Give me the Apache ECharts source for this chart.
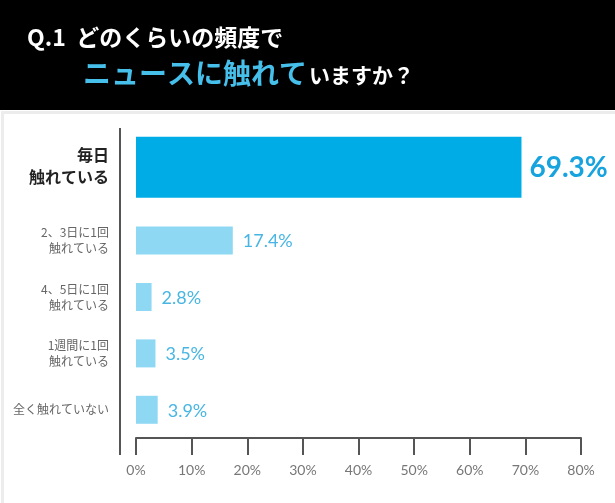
<!DOCTYPE html>
<html>
<head>
<meta charset="utf-8">
<script src="https://cdn.jsdelivr.net/npm/echarts@6/dist/echarts.min.js"></script>
<style>
  html, body { margin: 0; padding: 0; background: #fff; }
  #chart { width: 615px; height: 503px; }
</style>
</head>
<body>
<div id="chart"></div>
<script>
// 回答の選択肢（上から順）
const categories = ['毎日\n触れている', '2、3日に1回\n触れている', '4、5日に1回\n触れている', '1週間に1回\n触れている', '全く触れていない'];
const values = [69.3, 17.4, 2.8, 3.5, 3.9];
const tickLabels = ['0%', '10%', '20%', '30%', '40%', '50%', '60%', '70%', '80%'];

const numFont = 'Lato, "Noto Sans CJK JP", sans-serif';
const jpFont = '"Noto Sans CJK JP", sans-serif';

const chart = echarts.init(document.getElementById('chart'));
chart.setOption({
    backgroundColor: '#fff',
    animation: false,
    graphic: [
        { type: 'rect', left: 0, top: 0, shape: { width: 615, height: 110 }, style: { fill: '#000' } },
        { type: 'rect', left: 0, top: 110, shape: { width: 615, height: 393 }, style: { fill: 'none', stroke: '#ececec', lineWidth: 3 } },
        { type: 'text', x: 27, y: 37, style: { text: 'Q.1  どのくらいの頻度で', fill: '#fff', font: 'bold 23px ' + jpFont, verticalAlign: 'middle' } },
        { type: 'text', x: 83, y: 73, style: { text: 'ニュースに触れて', fill: '#46bfeb', font: 'bold 28px ' + jpFont, verticalAlign: 'middle' } },
        { type: 'text', x: 309, y: 75, style: { text: 'いますか？', fill: '#fff', font: 'bold 21px ' + jpFont, verticalAlign: 'middle' } },
        // 縦の区切り線
        { type: 'line', shape: { x1: 120, y1: 128, x2: 120, y2: 455 }, style: { stroke: '#555', lineWidth: 2 } }
    ],
    grid: { left: 136, right: 34, top: 156, bottom: 65 },
    xAxis: {
        type: 'value',
        min: 0, max: 80, interval: 10,
        splitLine: { show: false },
        axisLine: { show: true, lineStyle: { color: '#555', width: 2 } },
        axisTick: { show: true, length: 17, lineStyle: { color: '#555', width: 2 } },
        axisLabel: {
            margin: 25,
            color: '#777',
            fontSize: 14,
            fontFamily: numFont,
            formatter: (v) => tickLabels[v / 10]
        }
    },
    yAxis: {
        type: 'category',
        inverse: true,
        data: categories,
        axisLine: { show: false },
        axisTick: { show: false },
        axisLabel: {
            margin: 27,
            color: '#666',
            fontSize: 12,
            lineHeight: 16,
            fontFamily: jpFont,
            formatter: (v, i) => i === 0 ? v.split('\n').map(s => '{top|' + s + '}').join('\n') + '\n{gap| }' : v,
            rich: {
                top: { color: '#222', fontSize: 16, fontWeight: 'bold', lineHeight: 22, fontFamily: jpFont },
                gap: { fontSize: 10, lineHeight: 36 }
            }
        }
    },
    series: [{
        type: 'custom',
        encode: { x: 0, y: 1 },
        data: values.map((v, i) => [v, i]),
        renderItem: (params, api) => {
            const v = api.value(0);
            const idx = api.value(1);
            const isTop = idx === 0;
            const h = isTop ? 61 : 28;
            const p0 = api.coord([0, idx]);
            const p1 = api.coord([v, idx]);
            const cy = p0[1] + (isTop ? -17 : 0);
            return {
                type: 'group',
                children: [
                    {
                        type: 'rect',
                        shape: { x: p0[0], y: cy - h / 2, width: p1[0] - p0[0], height: h },
                        style: { fill: isTop ? '#00ace6' : '#8ed8f4' }
                    },
                    {
                        type: 'text',
                        x: p1[0] + (isTop ? 8 : 10),
                        y: cy + 1,
                        style: {
                            text: v.toFixed(1) + '%',
                            fill: isTop ? '#17a3dd' : '#48b6e2',
                            font: (isTop ? 'bold 28px ' : '18px ') + numFont,
                            verticalAlign: 'middle'
                        }
                    }
                ]
            };
        }
    }]
});
</script>
</body>
</html>
